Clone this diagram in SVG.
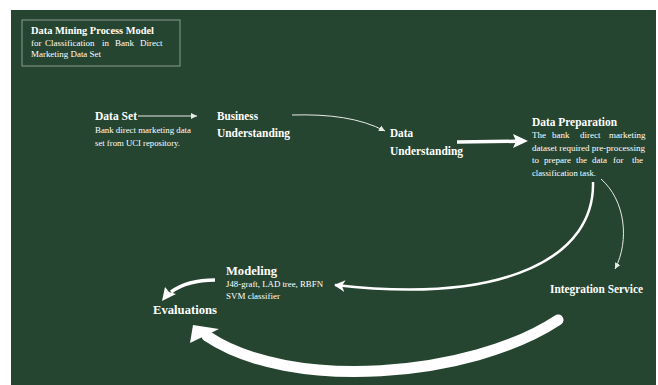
<svg xmlns="http://www.w3.org/2000/svg" width="658" height="385" viewBox="0 0 658 385">
<style>
.h{font-family:"Liberation Serif","Times New Roman",serif;font-weight:bold;fill:#ffffff}
.b{font-family:"Liberation Serif","Times New Roman",serif;fill:#ffffff}
.thin{fill:none;stroke:#e6ebe6;stroke-width:1}
.mid{fill:none;stroke:#ffffff;stroke-width:2.5}
.thick{fill:none;stroke:#ffffff;stroke-width:3.5}
</style>
<defs>
<marker id="small" markerUnits="userSpaceOnUse" markerWidth="8" markerHeight="8" refX="6" refY="4" orient="auto">
<path d="M0,1 L6,4 L0,7 Z" fill="#e6ebe6"/>
</marker>
<marker id="med" markerUnits="userSpaceOnUse" markerWidth="14" markerHeight="14" refX="10" refY="7" orient="auto">
<path d="M0,1 L11,7 L0,13 L3,7 Z" fill="#ffffff"/>
</marker>
</defs>
<rect x="0" y="0" width="658" height="385" fill="#ffffff"/>
<rect x="11" y="10" width="645" height="375" fill="#264530"/>

<g id="title">
<rect x="22" y="20" width="158" height="46" fill="none" stroke="#8a9c8d" stroke-width="1"/>
<text class="h" x="31" y="34" font-size="11" textLength="123" lengthAdjust="spacingAndGlyphs">Data Mining Process Model</text>
<text class="b" y="46" font-size="9"><tspan x="31">for</tspan><tspan x="45">Classification</tspan><tspan x="102">in</tspan><tspan x="115">Bank</tspan><tspan x="140">Direct</tspan></text>
<text class="b" x="31" y="57" font-size="9" textLength="70" lengthAdjust="spacingAndGlyphs">Marketing Data Set</text>
</g>

<g id="connectors">
<path class="thin" d="M138,116 L197,116" marker-end="url(#small)"/>
<path class="thin" d="M292,115 C330,114 360,118 385,131" marker-end="url(#small)"/>
<path d="M457,142 L516,141.3" fill="none" stroke="#ffffff" stroke-width="3.5"/>
<path d="M528,141 L513,134 L516,141.3 L513,148 Z" fill="#ffffff"/>
<path class="mid" d="M593,182 C595,255 510,305 335,285" marker-end="url(#med)"/>
<path class="thin" d="M601,179 C625,200 630,240 615,269" marker-end="url(#small)"/>
<path class="thick" d="M215,280 C197,280 182,284 171,292"/>
<path d="M162,301 L165,287 L169,292 L176,294 Z" fill="#ffffff"/>
<path d="M558,320 C470,378 290,392 207,336" fill="none" stroke="#ffffff" stroke-width="11" stroke-linecap="round"/>
<path d="M193,325 L219,329 L190,343 Z" fill="#ffffff"/>
</g>

<g id="data-set">
<text class="h" x="95" y="120" font-size="12.5" textLength="42" lengthAdjust="spacingAndGlyphs">Data Set</text>
<text class="b" x="95" y="133" font-size="9" textLength="96" lengthAdjust="spacingAndGlyphs">Bank direct marketing data</text>
<text class="b" x="95" y="146" font-size="9" textLength="85" lengthAdjust="spacingAndGlyphs">set from UCI repository.</text>
</g>

<g id="business-understanding">
<text class="h" x="217" y="120" font-size="13" textLength="41" lengthAdjust="spacingAndGlyphs">Business</text>
<text class="h" x="217" y="137" font-size="13" textLength="73" lengthAdjust="spacingAndGlyphs">Understanding</text>
</g>

<g id="data-understanding">
<text class="h" x="390" y="137" font-size="13" textLength="23" lengthAdjust="spacingAndGlyphs">Data</text>
<text class="h" x="390" y="155" font-size="13" textLength="73" lengthAdjust="spacingAndGlyphs">Understanding</text>
</g>

<g id="data-preparation">
<text class="h" x="532" y="126" font-size="13" textLength="85" lengthAdjust="spacingAndGlyphs">Data Preparation</text>
<text class="b" y="138" font-size="9"><tspan x="532">The</tspan><tspan x="552">bank</tspan><tspan x="580">direct</tspan><tspan x="609">marketing</tspan></text>
<text class="b" x="532" y="151" font-size="9" textLength="113" lengthAdjust="spacingAndGlyphs">dataset required pre-processing</text>
<text class="b" y="163" font-size="9"><tspan x="532">to</tspan><tspan x="544">prepare</tspan><tspan x="576">the</tspan><tspan x="592">data</tspan><tspan x="613">for</tspan><tspan x="632">the</tspan></text>
<text class="b" x="532" y="176" font-size="9" textLength="64" lengthAdjust="spacingAndGlyphs">classification task.</text>
</g>

<g id="integration-service">
<text class="h" x="550" y="293" font-size="12" textLength="93" lengthAdjust="spacingAndGlyphs">Integration Service</text>
</g>

<g id="modeling">
<text class="h" x="226" y="275" font-size="13" textLength="51" lengthAdjust="spacingAndGlyphs">Modeling</text>
<text class="b" x="226" y="287" font-size="8.5" textLength="97" lengthAdjust="spacingAndGlyphs">J48-graft, LAD tree, RBFN</text>
<text class="b" x="226" y="299" font-size="8.5" textLength="54" lengthAdjust="spacingAndGlyphs">SVM classifier</text>
</g>

<g id="evaluations">
<text class="h" x="153" y="314" font-size="13" textLength="64" lengthAdjust="spacingAndGlyphs">Evaluations</text>
</g>
</svg>
